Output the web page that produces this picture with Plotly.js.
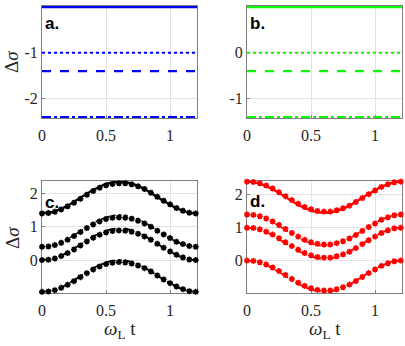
<!DOCTYPE html>
<html>
<head>
<meta charset="utf-8">
<script src="https://cdn.plot.ly/plotly-3.0.1.min.js"></script>
<style>html,body{margin:0;padding:0;background:#fff;}#chart{width:405px;height:346px;}</style>
</head>
<body>
<div id="chart"></div>
<script>
// ---- data ----
const t = [0,0.05,0.1,0.15,0.2,0.25,0.3,0.35,0.4,0.45,0.5,0.55,0.6,0.65,0.7,0.75,0.8,0.85,0.9,0.95,1.0,1.05,1.1,1.15,1.2];
const tEnds = [0, 1.21];

// panel a (blue, constant levels): solid, dotted, dashed, dash-dot
const aLevels = [0, -1, -1.4, -2.4];
// panel b (green, constant levels)
const bLevels = [1, 0, -0.4, -1.4];

// panel c (black) theory lines
const c1 = [1.40,1.42,1.46,1.54,1.63,1.75,1.87,1.99,2.11,2.20,2.28,2.33,2.35,2.34,2.29,2.22,2.13,2.01,1.89,1.77,1.66,1.55,1.48,1.42,1.40];
const c2 = [0.40,0.42,0.46,0.54,0.63,0.75,0.87,0.99,1.11,1.20,1.28,1.33,1.35,1.34,1.29,1.22,1.13,1.01,0.89,0.77,0.66,0.55,0.48,0.42,0.40];
const c3 = [0.00,0.02,0.06,0.14,0.23,0.35,0.47,0.59,0.71,0.80,0.88,0.93,0.95,0.94,0.89,0.82,0.73,0.61,0.49,0.37,0.26,0.15,0.08,0.02,0.00];
const c4 = [-0.95,-0.93,-0.89,-0.81,-0.72,-0.60,-0.48,-0.36,-0.24,-0.15,-0.07,-0.02,0.00,-0.01,-0.06,-0.13,-0.22,-0.34,-0.46,-0.58,-0.69,-0.80,-0.87,-0.93,-0.95];
// panel c simulation markers
const c1m = [1.40,1.41,1.45,1.52,1.61,1.72,1.84,1.96,2.07,2.17,2.24,2.28,2.30,2.30,2.27,2.21,2.13,2.02,1.90,1.78,1.67,1.56,1.48,1.42,1.40];
const c2m = [0.40,0.41,0.45,0.52,0.61,0.72,0.84,0.96,1.07,1.16,1.23,1.27,1.28,1.27,1.24,1.18,1.10,1.00,0.88,0.77,0.66,0.55,0.48,0.42,0.40];
const c3m = [0.00,0.01,0.05,0.12,0.21,0.32,0.44,0.56,0.67,0.76,0.83,0.87,0.89,0.88,0.85,0.79,0.71,0.61,0.49,0.37,0.26,0.16,0.08,0.02,0.00];
const c4m = [-0.95,-0.94,-0.90,-0.83,-0.74,-0.63,-0.51,-0.39,-0.28,-0.19,-0.12,-0.08,-0.06,-0.07,-0.10,-0.16,-0.24,-0.34,-0.46,-0.58,-0.69,-0.79,-0.87,-0.93,-0.95];

// panel d (red) theory lines
const d1 = [2.40,2.38,2.34,2.26,2.17,2.05,1.93,1.81,1.69,1.60,1.52,1.47,1.45,1.46,1.51,1.58,1.67,1.79,1.91,2.03,2.14,2.25,2.32,2.38,2.40];
const d2 = [1.40,1.38,1.34,1.26,1.17,1.05,0.93,0.81,0.69,0.60,0.52,0.47,0.45,0.46,0.51,0.58,0.67,0.79,0.91,1.03,1.14,1.25,1.32,1.38,1.40];
const d3 = [1.00,0.98,0.94,0.86,0.77,0.65,0.53,0.41,0.29,0.20,0.12,0.07,0.05,0.06,0.11,0.18,0.27,0.39,0.51,0.63,0.74,0.85,0.92,0.98,1.00];
const d4 = [0.00,-0.02,-0.06,-0.14,-0.23,-0.35,-0.47,-0.59,-0.71,-0.80,-0.88,-0.93,-0.95,-0.94,-0.89,-0.82,-0.73,-0.61,-0.49,-0.37,-0.26,-0.15,-0.08,-0.02,0.00];
// panel d simulation markers
const d1m = [2.40,2.39,2.35,2.28,2.19,2.08,1.96,1.84,1.73,1.63,1.56,1.51,1.49,1.49,1.53,1.59,1.67,1.78,1.90,2.02,2.13,2.24,2.32,2.38,2.40];
const d2m = [1.40,1.39,1.35,1.28,1.19,1.08,0.96,0.84,0.73,0.63,0.56,0.51,0.49,0.49,0.53,0.59,0.67,0.78,0.90,1.02,1.13,1.24,1.32,1.38,1.40];
const d3m = [1.00,0.99,0.95,0.88,0.79,0.68,0.56,0.44,0.33,0.23,0.16,0.11,0.09,0.09,0.13,0.19,0.27,0.38,0.50,0.62,0.73,0.84,0.92,0.98,1.00];
const d4m = [0.00,-0.01,-0.05,-0.12,-0.21,-0.32,-0.44,-0.56,-0.67,-0.77,-0.84,-0.89,-0.91,-0.91,-0.87,-0.81,-0.73,-0.62,-0.50,-0.38,-0.27,-0.16,-0.08,-0.02,0.00];

// tick labels
const xTickVals = [0, 0.5, 1];
const xTickText = ['0', '0.5', '1'];
const aTickVals = [-2, -1, 0];
const aTickText = ['-2', '-1', '0'];
const bTickVals = [-1, 0, 1];
const bTickText = ['-1', '0', '1'];
const cdTickVals = [0, 1, 2];
const cdTickText = ['0', '1', '2'];
const panelLabels = ['a.', 'b.', 'c.', 'd.'];
const yTitle = 'Δ<i>σ</i>';
const xTitle = '<i>ω</i><sub>L</sub> t';

// ---- styles ----
const dashes = ['solid', 'dot', 'dash', 'dashdot'];
const widths = [2.2, 1.6, 1.8, 1.8];
const BLUE = '#0000ff', GREEN = '#00ff00', BLACK = '#000000', RED = '#ff0000';

const traces = [];
function levelTraces(levels, color, xa, ya) {
  levels.forEach((lv, i) => {
    traces.push({x: tEnds, y: [lv, lv], xaxis: xa, yaxis: ya, mode: 'lines',
      line: {color: color, dash: dashes[i], width: widths[i] + 0.4}, showlegend: false});
  });
}
levelTraces(aLevels, BLUE, 'x', 'y');
levelTraces(bLevels, GREEN, 'x2', 'y2');

function curveTraces(lines, marks, color, xa, ya) {
  lines.forEach((ys, i) => {
    traces.push({x: t, y: ys, xaxis: xa, yaxis: ya, mode: 'lines',
      line: {color: color, dash: dashes[i], width: widths[i], shape: 'spline'}, showlegend: false});
  });
  marks.forEach((ys) => {
    traces.push({x: t, y: ys, xaxis: xa, yaxis: ya, mode: 'markers', cliponaxis: false,
      marker: {symbol: 'asterisk-open', size: 5, color: color, line: {color: color, width: 1.6}}, showlegend: false});
  });
}
curveTraces([c1, c2, c3, c4], [c1m, c2m, c3m, c4m], BLACK, 'x3', 'y3');
curveTraces([d1, d2, d3, d4], [d1m, d2m, d3m, d4m], RED, 'x4', 'y4');

const W = 405, H = 346;
const px = (a, b) => [a / W, b / W];
const py = (top, bot) => [1 - bot / H, 1 - top / H];

function xax(dom, anchor) {
  return {domain: dom, anchor: anchor, range: [0, 1.21], tickvals: xTickVals, ticktext: xTickText,
    showgrid: true, gridcolor: '#e3e3e3', gridwidth: 1, zeroline: false, showline: true, mirror: true,
    linecolor: '#7f7f7f', linewidth: 1, ticks: 'inside', ticklen: 3, tickcolor: '#7f7f7f',
    ticklabelstandoff: 3,
    tickfont: {family: 'Liberation Serif', size: 16, color: '#262626'}, layer: 'below traces'};
}
function yax(dom, anchor, range, vals, text) {
  return {domain: dom, anchor: anchor, range: range, tickvals: vals, ticktext: text,
    showgrid: true, gridcolor: '#e3e3e3', gridwidth: 1, zeroline: false, showline: true, mirror: true,
    linecolor: '#7f7f7f', linewidth: 1, ticks: 'inside', ticklen: 3, tickcolor: '#7f7f7f',
    tickfont: {family: 'Liberation Serif', size: 16, color: '#262626'}, layer: 'below traces'};
}

function ann(text, x, y, extra) {
  return Object.assign({text: text, xref: 'paper', yref: 'paper', x: x / W, y: 1 - y / H,
    showarrow: false, xanchor: 'center', yanchor: 'middle', font: {family: 'Liberation Serif', size: 19, color: '#262626'}}, extra || {});
}
function labAnn(text, x, y) {
  return ann('<b>' + text + '</b>', x, y, {xanchor: 'left', font: {family: 'Liberation Sans', size: 17, color: '#000000'}});
}

const layout = {
  width: W, height: H, margin: {l: 0, r: 0, t: 0, b: 0},
  showlegend: false,
  xaxis: xax(px(42, 197), 'y'),
  yaxis: yax(py(6, 118), 'x', [-2.42, 0.02], aTickVals, aTickText),
  xaxis2: xax(px(247, 402), 'y2'),
  yaxis2: yax(py(6, 118), 'x2', [-1.42, 1.02], bTickVals, bTickText),
  xaxis3: xax(px(42, 197), 'y3'),
  yaxis3: yax(py(181, 292.5), 'x3', [-0.97, 2.37], cdTickVals, cdTickText),
  xaxis4: xax(px(247, 402), 'y4'),
  yaxis4: yax(py(181, 292.5), 'x4', [-0.97, 2.42], cdTickVals, cdTickText),
  annotations: [
    ann(yTitle, 12, 62, {textangle: -90}),
    ann(yTitle, 12, 238, {textangle: -90}),
    ann(xTitle, 119.5, 330),
    ann(xTitle, 324.5, 330),
    labAnn(panelLabels[0], 43, 23),
    labAnn(panelLabels[1], 248, 23),
    labAnn(panelLabels[2], 43, 202),
    labAnn(panelLabels[3], 248, 201)
  ]
};

Plotly.newPlot('chart', traces, layout, {displayModeBar: false, staticPlot: true});
</script>
</body>
</html>
